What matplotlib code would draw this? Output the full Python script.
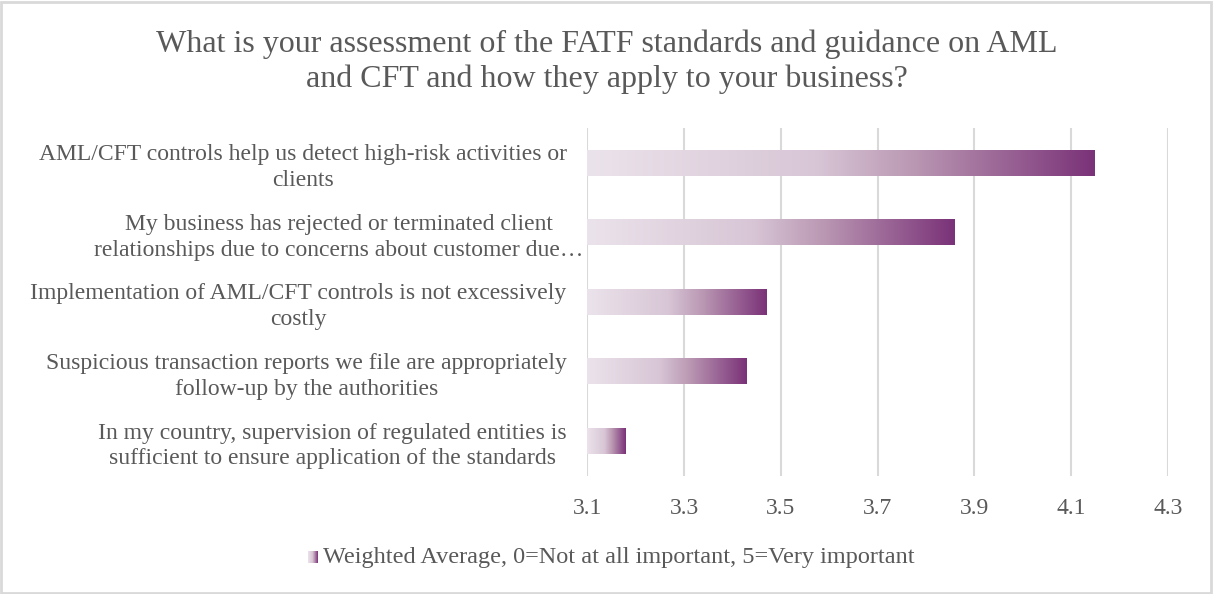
import numpy as np
import matplotlib.pyplot as plt
from matplotlib.colors import LinearSegmentedColormap
from matplotlib.transforms import ScaledTranslation

# Data
categories = [
    "AML/CFT controls help us detect high-risk activities or\nclients",
    "My business has rejected or terminated client\nrelationships due to concerns about customer due\u2026",
    "Implementation of AML/CFT controls is not excessively\ncostly",
    "Suspicious transaction reports we file are appropriately\nfollow-up by the authorities",
    "In my country, supervision of regulated entities is\nsufficient to ensure application of the standards",
]
values = [4.15, 3.86, 3.47, 3.43, 3.18]
xticks = [3.1, 3.3, 3.5, 3.7, 3.9, 4.1, 4.3]

title = ("What is your assessment of the FATF standards and guidance on AML\n"
         "and CFT and how they apply to your business?")
legend_label = "Weighted Average, 0=Not at all important, 5=Very important"

plt.rcParams['font.family'] = ['Liberation Serif', 'DejaVu Serif']
text_color = '#595959'
grid_color = '#d9d9d9'

cmap = LinearSegmentedColormap.from_list(
    'purple_grad',
    [(0.0, '#ebe3eb'), (0.45, '#d8c6d6'), (0.65, '#b996b2'), (1.0, '#7a3278')])
gradient = np.linspace(0, 1, 256).reshape(1, -1)

fig = plt.figure(figsize=(12.13, 5.94), dpi=100)
ax = fig.add_axes([0.4843, 0.1987, 0.4786, 0.5859])

xmin, xmax = xticks[0], xticks[-1]
bar_h = 0.37
n = len(categories)
ypos = np.arange(n)
for y, v in zip(ypos, values):
    ax.imshow(gradient, cmap=cmap, aspect='auto', interpolation='bilinear',
              extent=[xmin, v, y + bar_h / 2, y - bar_h / 2], zorder=2)

ax.set_xlim(xmin, xmax)
ax.set_ylim(n - 0.5, -0.5)
ax.set_xticks(xticks)
ax.set_xticklabels([f"{t:.1f}" for t in xticks], fontsize=17, color=text_color)
ax.set_yticks(ypos)
ax.set_yticklabels(categories, fontsize=17, color=text_color,
                   multialignment='center', linespacing=1.3)
ax.tick_params(axis='both', length=0)
ax.tick_params(axis='x', pad=16)
ax.tick_params(axis='y', pad=15)
ax.grid(axis='x', color=grid_color, linewidth=1.5, zorder=0)
ax.set_axisbelow(True)
for s in ax.spines.values():
    s.set_visible(False)

# truncated label sticks out a bit to the right, like in the original
lbl = ax.get_yticklabels()[1]
lbl.set_transform(lbl.get_transform() + ScaledTranslation(0.17, 0, fig.dpi_scale_trans))

fig.text(0.5, 1 - 62 / 594, title, ha='center', va='center', fontsize=23,
         color=text_color, linespacing=1.25)

# legend: small gradient key + label
kx = fig.add_axes([308 / 1213, 1 - 563 / 594, 10 / 1213, 12 / 594])
kx.imshow(gradient, cmap=cmap, aspect='auto')
kx.axis('off')
fig.text(323 / 1213, 1 - 557 / 594, legend_label, ha='left', va='center',
         fontsize=17.5, color=text_color)

# outer chart border
fig.patches.append(plt.Rectangle((0.001, 0.002), 0.997, 0.995,
                                 transform=fig.transFigure, fill=False,
                                 edgecolor=grid_color, linewidth=2))

fig.savefig('out.png', dpi=100, facecolor='white')
